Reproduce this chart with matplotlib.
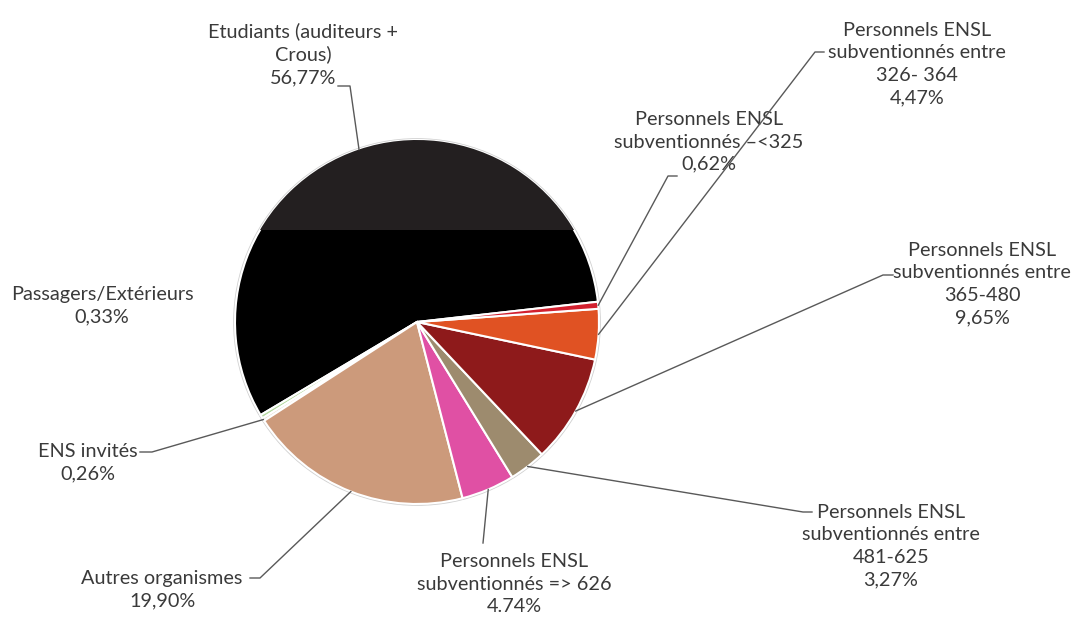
import numpy as np
import matplotlib.pyplot as plt
from matplotlib.patches import Wedge, Rectangle

W, H = 1077, 618

# Slices in drawing order (counter-clockwise from the right)
labels = [
    "Etudiants (auditeurs +\nCrous)",
    "Passagers/Extérieurs",
    "ENS invités",
    "Autres organismes",
    "Personnels ENSL\nsubventionnés => 626",
    "Personnels ENSL\nsubventionnés entre\n481-625",
    "Personnels ENSL\nsubventionnés entre\n365-480",
    "Personnels ENSL\nsubventionnés entre\n326- 364",
    "Personnels ENSL\nsubventionnés \u2013<325",
]
values = [56.77, 0.33, 0.26, 19.90, 4.74, 3.27, 9.65, 4.47, 0.62]
pct_text = ["56,77%", "0,33%", "0,26%", "19,90%", "4.74%", "3,27%", "9,65%", "4,47%", "0,62%"]
colors = ["#000000", "#b5d9a0", "#e6ded2", "#cc9a7b", "#e050a4",
          "#9d8b6e", "#8e1a1b", "#e05223", "#d2202f"]

# label block centres and leader elbows (image pixel coords)
label_pos = [(303, 54), (102, 306), (88, 463), (162, 590), (514, 584),
             (891, 546), (982, 284), (917, 64), (709, 142)]
elbows = [
    [(350, 86), (338, 86)],
    None,
    [(152, 452), (140, 452)],
    [(260, 578), (250, 578)],
    [(483, 543)],
    [(803, 512), (812, 512)],
    [(883, 275), (893, 275)],
    [(815, 52), (824, 52)],
    [(668, 176), (677, 176)],
]

cx, cy, R = 417, 322, 182
start = 6.4

plt.rcParams['font.family'] = ['Lato', 'DejaVu Sans']

fig = plt.figure(figsize=(W / 100, H / 100), dpi=100)
ax = fig.add_axes([0, 0, 1, 1])

wedges, _ = ax.pie(values, colors=colors, startangle=start, counterclock=True,
                   center=(cx, H - cy), radius=R,
                   wedgeprops=dict(edgecolor="white", linewidth=1.5))

# darker band on top part of the big slice (scan artefact in the original)
w0 = wedges[0]
band = Wedge(w0.center, w0.r, w0.theta1, w0.theta2, facecolor="#231f20",
             edgecolor="none", zorder=w0.get_zorder() + 0.1)
clip = Rectangle((0, H - 230), W, 230, transform=ax.transData)
ax.add_patch(band)
band.set_clip_path(clip)

# soft grey rim
ax.add_patch(plt.Circle((cx, H - cy), R + 1, fill=False, edgecolor="#d0d0d0",
                        linewidth=1.2, zorder=0))

for w, lab, pct, pos, elb in zip(wedges, labels, pct_text, label_pos, elbows):
    ax.text(pos[0], H - pos[1], lab + "\n" + pct, ha="center", va="center",
            fontsize=14.3, color="#3a3a3a", linespacing=1.38, zorder=5)
    if elb is None:
        continue
    mid = np.deg2rad((w.theta1 + w.theta2) / 2)
    px = w.center[0] + w.r * np.cos(mid)
    py = w.center[1] + w.r * np.sin(mid)
    xs = [px] + [e[0] for e in elb]
    ys = [py] + [H - e[1] for e in elb]
    ax.plot(xs, ys, color="#595959", linewidth=1, zorder=6)

ax.set_xlim(0, W)
ax.set_ylim(0, H)
ax.set_aspect("equal")
ax.axis("off")

fig.savefig("out.png", dpi=100)
